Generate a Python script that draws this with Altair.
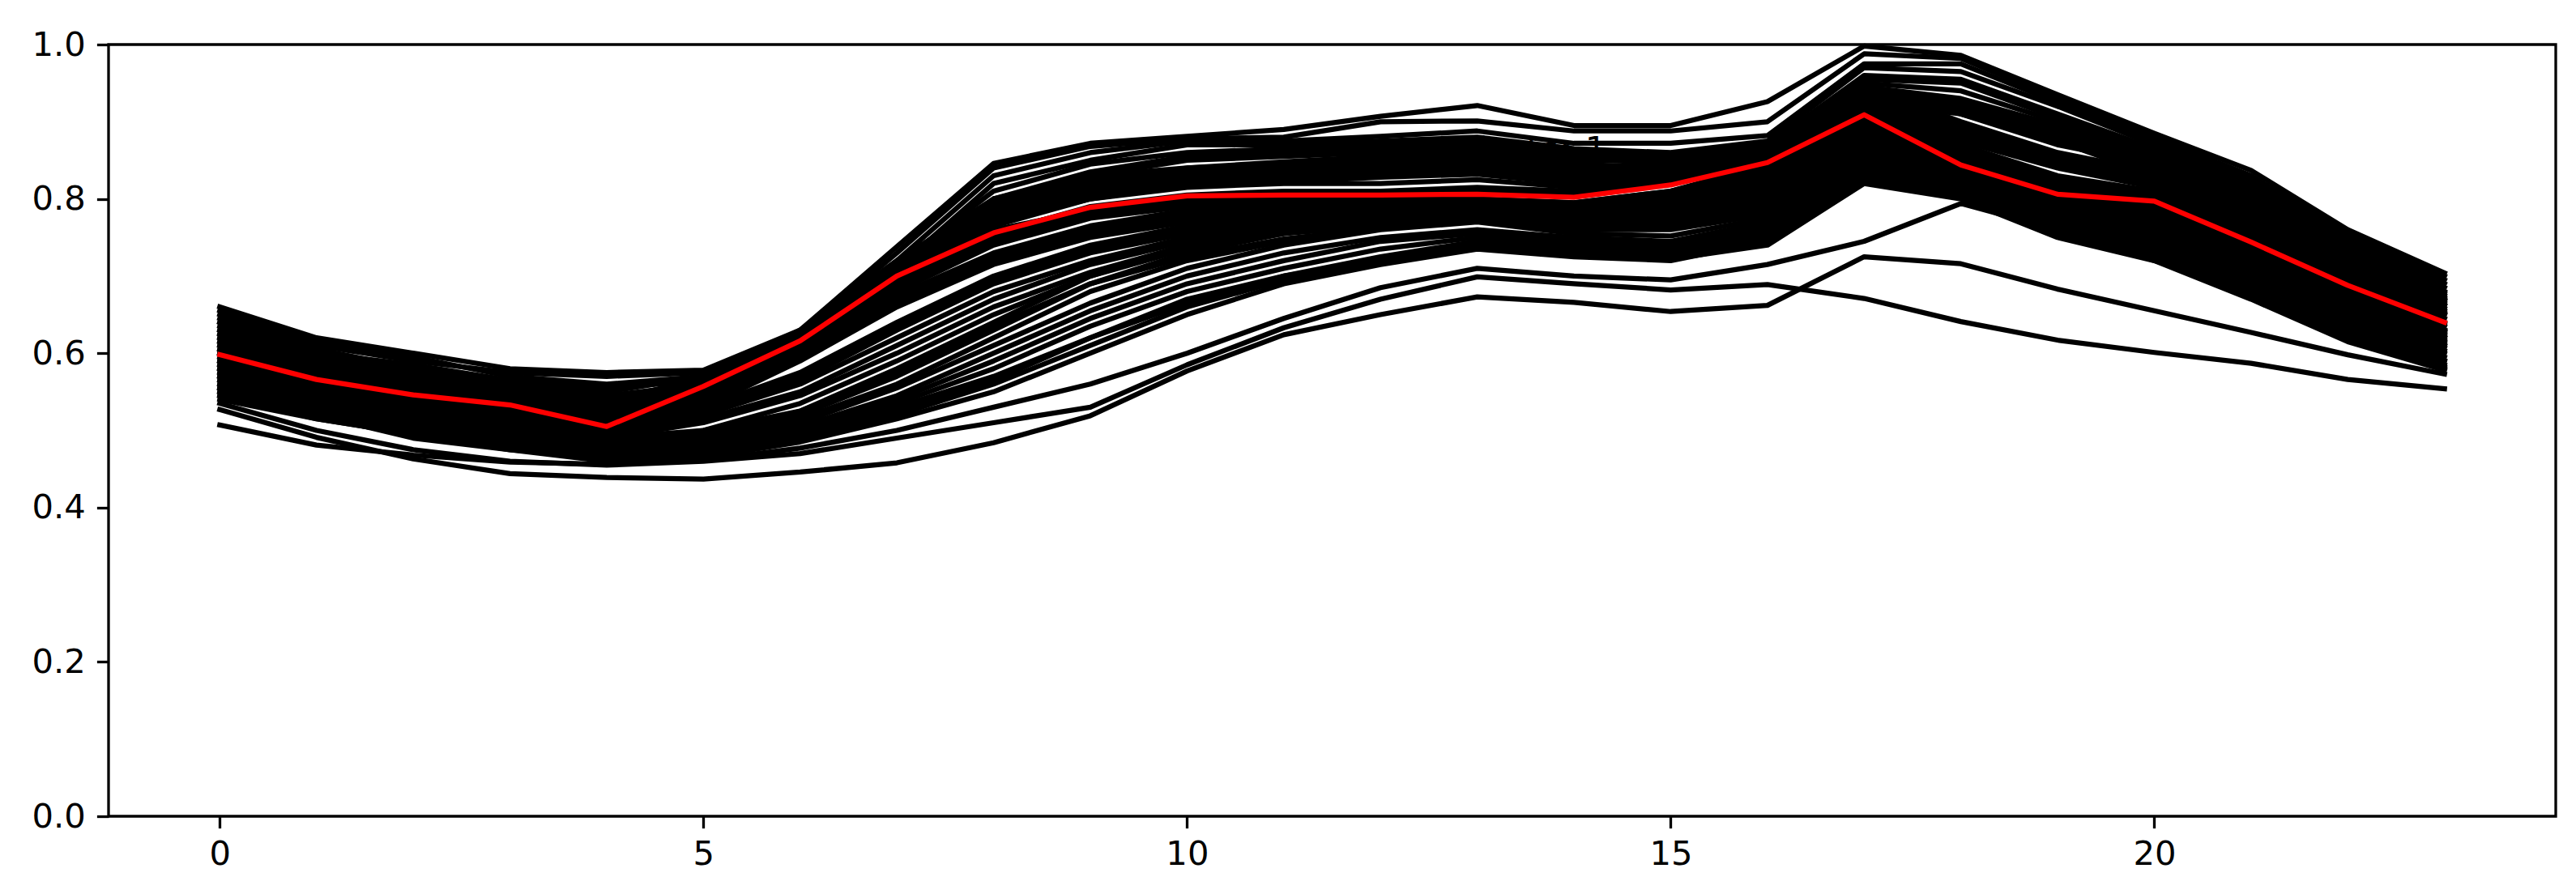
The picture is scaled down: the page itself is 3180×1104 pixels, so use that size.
import altair as alt
import pandas as pd

HOURS = list(range(24))

# Upper group of profiles
U1 = [0.660, 0.620, 0.600, 0.580, 0.575, 0.578, 0.630, 0.738, 0.846, 0.872, 0.881, 0.890, 0.907, 0.921, 0.895, 0.895, 0.926, 0.998, 0.986, 0.935, 0.885, 0.837, 0.760, 0.704]
U2 = [0.650, 0.610, 0.590, 0.575, 0.570, 0.575, 0.625, 0.730, 0.840, 0.868, 0.878, 0.880, 0.900, 0.901, 0.888, 0.888, 0.900, 0.988, 0.982, 0.930, 0.880, 0.830, 0.755, 0.700]
U3 = [0.655, 0.615, 0.595, 0.570, 0.560, 0.570, 0.620, 0.720, 0.830, 0.860, 0.875, 0.875, 0.881, 0.888, 0.872, 0.872, 0.882, 0.975, 0.975, 0.925, 0.875, 0.825, 0.750, 0.695]
U4 = [0.640, 0.600, 0.585, 0.565, 0.555, 0.565, 0.615, 0.710, 0.820, 0.850, 0.870, 0.870, 0.875, 0.880, 0.865, 0.860, 0.875, 0.970, 0.965, 0.920, 0.870, 0.820, 0.745, 0.690]
U5 = [0.630, 0.595, 0.575, 0.560, 0.550, 0.570, 0.620, 0.715, 0.810, 0.845, 0.860, 0.865, 0.870, 0.875, 0.860, 0.855, 0.870, 0.960, 0.955, 0.910, 0.865, 0.815, 0.740, 0.685]
U6 = [0.645, 0.605, 0.580, 0.560, 0.545, 0.560, 0.610, 0.700, 0.800, 0.835, 0.855, 0.860, 0.865, 0.870, 0.855, 0.850, 0.865, 0.955, 0.950, 0.905, 0.860, 0.810, 0.735, 0.680]
U7 = [0.620, 0.590, 0.570, 0.555, 0.540, 0.565, 0.615, 0.705, 0.795, 0.830, 0.850, 0.855, 0.860, 0.865, 0.850, 0.848, 0.860, 0.950, 0.940, 0.900, 0.855, 0.805, 0.730, 0.678]
U8 = [0.635, 0.600, 0.575, 0.550, 0.530, 0.560, 0.620, 0.700, 0.790, 0.825, 0.840, 0.848, 0.855, 0.860, 0.845, 0.840, 0.855, 0.945, 0.930, 0.895, 0.850, 0.800, 0.725, 0.675]
U9 = [0.610, 0.585, 0.565, 0.545, 0.525, 0.555, 0.610, 0.695, 0.785, 0.820, 0.838, 0.845, 0.850, 0.855, 0.840, 0.838, 0.850, 0.940, 0.925, 0.890, 0.845, 0.795, 0.720, 0.670]
U10 = [0.625, 0.590, 0.570, 0.550, 0.535, 0.570, 0.625, 0.710, 0.800, 0.815, 0.830, 0.840, 0.845, 0.852, 0.838, 0.835, 0.848, 0.935, 0.920, 0.885, 0.840, 0.790, 0.718, 0.668]
U11 = [0.615, 0.580, 0.560, 0.545, 0.520, 0.550, 0.600, 0.690, 0.775, 0.810, 0.825, 0.835, 0.840, 0.848, 0.835, 0.830, 0.845, 0.930, 0.915, 0.880, 0.835, 0.788, 0.715, 0.665]
U12 = [0.600, 0.575, 0.555, 0.540, 0.515, 0.555, 0.605, 0.685, 0.770, 0.805, 0.822, 0.830, 0.838, 0.845, 0.830, 0.828, 0.842, 0.925, 0.910, 0.875, 0.830, 0.785, 0.712, 0.662]

# Upper-middle group
A1 = [0.630, 0.595, 0.570, 0.555, 0.520, 0.565, 0.625, 0.710, 0.790, 0.820, 0.835, 0.840, 0.845, 0.850, 0.835, 0.840, 0.865, 0.945, 0.900, 0.860, 0.835, 0.780, 0.715, 0.668]
A2 = [0.615, 0.585, 0.565, 0.550, 0.515, 0.560, 0.620, 0.705, 0.785, 0.815, 0.830, 0.835, 0.840, 0.845, 0.830, 0.840, 0.870, 0.940, 0.895, 0.855, 0.830, 0.775, 0.710, 0.662]
A3 = [0.605, 0.575, 0.555, 0.540, 0.510, 0.555, 0.615, 0.700, 0.775, 0.810, 0.825, 0.830, 0.835, 0.840, 0.828, 0.835, 0.865, 0.935, 0.890, 0.850, 0.825, 0.770, 0.705, 0.658]
A4 = [0.625, 0.590, 0.565, 0.550, 0.525, 0.565, 0.625, 0.715, 0.785, 0.810, 0.820, 0.825, 0.830, 0.835, 0.825, 0.838, 0.860, 0.930, 0.885, 0.848, 0.822, 0.768, 0.702, 0.655]
A5 = [0.590, 0.565, 0.550, 0.535, 0.505, 0.550, 0.610, 0.695, 0.770, 0.800, 0.818, 0.822, 0.828, 0.832, 0.820, 0.832, 0.858, 0.928, 0.880, 0.845, 0.820, 0.765, 0.700, 0.652]
A6 = [0.640, 0.600, 0.580, 0.560, 0.530, 0.570, 0.630, 0.720, 0.800, 0.830, 0.840, 0.845, 0.850, 0.855, 0.840, 0.845, 0.870, 0.950, 0.910, 0.870, 0.845, 0.790, 0.720, 0.672]
A7 = [0.600, 0.570, 0.550, 0.540, 0.510, 0.560, 0.620, 0.700, 0.780, 0.805, 0.820, 0.828, 0.832, 0.838, 0.825, 0.830, 0.855, 0.925, 0.875, 0.840, 0.815, 0.765, 0.700, 0.650]

# Middle group
M1 = [0.620, 0.585, 0.560, 0.545, 0.510, 0.560, 0.620, 0.700, 0.765, 0.800, 0.815, 0.820, 0.820, 0.825, 0.815, 0.830, 0.860, 0.920, 0.870, 0.830, 0.810, 0.760, 0.700, 0.650]
M2 = [0.600, 0.570, 0.550, 0.535, 0.505, 0.555, 0.615, 0.695, 0.755, 0.790, 0.805, 0.810, 0.810, 0.815, 0.810, 0.825, 0.855, 0.915, 0.865, 0.825, 0.805, 0.755, 0.695, 0.645]
M3 = [0.590, 0.565, 0.545, 0.530, 0.500, 0.550, 0.610, 0.690, 0.750, 0.785, 0.800, 0.800, 0.805, 0.810, 0.805, 0.820, 0.850, 0.910, 0.860, 0.820, 0.800, 0.750, 0.690, 0.640]
M4 = [0.610, 0.575, 0.550, 0.535, 0.505, 0.560, 0.620, 0.700, 0.760, 0.785, 0.795, 0.795, 0.800, 0.800, 0.795, 0.810, 0.845, 0.905, 0.855, 0.815, 0.795, 0.745, 0.688, 0.638]
M5 = [0.580, 0.555, 0.540, 0.525, 0.495, 0.545, 0.605, 0.680, 0.740, 0.775, 0.790, 0.790, 0.795, 0.800, 0.795, 0.810, 0.840, 0.900, 0.850, 0.810, 0.790, 0.740, 0.685, 0.635]
M6 = [0.595, 0.560, 0.540, 0.525, 0.490, 0.550, 0.610, 0.685, 0.745, 0.780, 0.795, 0.800, 0.800, 0.800, 0.790, 0.805, 0.835, 0.900, 0.850, 0.810, 0.785, 0.735, 0.680, 0.630]
M7 = [0.605, 0.570, 0.545, 0.530, 0.500, 0.545, 0.600, 0.675, 0.730, 0.765, 0.785, 0.790, 0.790, 0.795, 0.785, 0.800, 0.830, 0.895, 0.845, 0.805, 0.780, 0.730, 0.675, 0.628]
M8 = [0.575, 0.550, 0.530, 0.520, 0.490, 0.540, 0.600, 0.670, 0.725, 0.760, 0.780, 0.785, 0.785, 0.790, 0.780, 0.795, 0.825, 0.890, 0.840, 0.800, 0.775, 0.725, 0.670, 0.625]
M9 = [0.585, 0.555, 0.535, 0.520, 0.485, 0.535, 0.595, 0.665, 0.720, 0.755, 0.775, 0.780, 0.780, 0.785, 0.775, 0.790, 0.820, 0.885, 0.835, 0.795, 0.770, 0.720, 0.668, 0.622]
M10 = [0.570, 0.545, 0.525, 0.515, 0.480, 0.530, 0.590, 0.660, 0.715, 0.750, 0.770, 0.775, 0.780, 0.780, 0.770, 0.785, 0.815, 0.880, 0.830, 0.790, 0.765, 0.715, 0.665, 0.620]

# Lower-middle group
B1 = [0.590, 0.560, 0.540, 0.525, 0.500, 0.530, 0.575, 0.640, 0.700, 0.740, 0.765, 0.775, 0.780, 0.790, 0.780, 0.790, 0.815, 0.885, 0.845, 0.800, 0.780, 0.730, 0.675, 0.630]
B2 = [0.575, 0.550, 0.530, 0.515, 0.495, 0.525, 0.565, 0.630, 0.690, 0.730, 0.755, 0.770, 0.775, 0.785, 0.775, 0.785, 0.810, 0.880, 0.840, 0.795, 0.775, 0.725, 0.670, 0.627]
B3 = [0.580, 0.550, 0.530, 0.515, 0.490, 0.520, 0.560, 0.620, 0.680, 0.720, 0.750, 0.765, 0.775, 0.782, 0.772, 0.780, 0.805, 0.878, 0.838, 0.792, 0.770, 0.722, 0.668, 0.624]
B4 = [0.565, 0.540, 0.520, 0.505, 0.485, 0.515, 0.550, 0.610, 0.670, 0.715, 0.745, 0.760, 0.770, 0.780, 0.770, 0.775, 0.800, 0.875, 0.835, 0.790, 0.765, 0.718, 0.662, 0.620]
B5 = [0.570, 0.545, 0.525, 0.510, 0.490, 0.510, 0.545, 0.600, 0.660, 0.705, 0.740, 0.758, 0.768, 0.778, 0.765, 0.770, 0.795, 0.872, 0.832, 0.785, 0.760, 0.712, 0.658, 0.617]
B6 = [0.560, 0.535, 0.515, 0.500, 0.480, 0.500, 0.535, 0.590, 0.650, 0.700, 0.735, 0.755, 0.765, 0.775, 0.762, 0.765, 0.790, 0.868, 0.828, 0.782, 0.757, 0.708, 0.655, 0.613]
B7 = [0.585, 0.555, 0.535, 0.520, 0.495, 0.525, 0.570, 0.635, 0.695, 0.735, 0.760, 0.770, 0.778, 0.788, 0.778, 0.788, 0.812, 0.882, 0.842, 0.798, 0.778, 0.728, 0.672, 0.628]
B8 = [0.555, 0.530, 0.510, 0.495, 0.475, 0.490, 0.525, 0.575, 0.635, 0.690, 0.725, 0.748, 0.762, 0.772, 0.760, 0.762, 0.785, 0.865, 0.825, 0.780, 0.755, 0.705, 0.650, 0.610]

# Lower (late-rising) group
L1 = [0.580, 0.550, 0.530, 0.510, 0.490, 0.500, 0.525, 0.580, 0.640, 0.700, 0.740, 0.760, 0.775, 0.785, 0.770, 0.770, 0.790, 0.870, 0.850, 0.800, 0.770, 0.720, 0.660, 0.615]
L2 = [0.565, 0.540, 0.520, 0.505, 0.485, 0.495, 0.520, 0.570, 0.630, 0.690, 0.730, 0.755, 0.770, 0.780, 0.765, 0.765, 0.785, 0.865, 0.845, 0.795, 0.765, 0.715, 0.655, 0.610]
L3 = [0.555, 0.530, 0.510, 0.500, 0.480, 0.490, 0.515, 0.560, 0.620, 0.680, 0.720, 0.745, 0.765, 0.775, 0.760, 0.760, 0.780, 0.860, 0.840, 0.790, 0.760, 0.710, 0.650, 0.607]
L4 = [0.570, 0.540, 0.515, 0.495, 0.475, 0.485, 0.510, 0.555, 0.610, 0.665, 0.710, 0.740, 0.760, 0.770, 0.755, 0.752, 0.775, 0.855, 0.835, 0.785, 0.755, 0.705, 0.645, 0.603]
L5 = [0.550, 0.525, 0.505, 0.490, 0.470, 0.480, 0.505, 0.545, 0.600, 0.655, 0.700, 0.730, 0.750, 0.760, 0.750, 0.745, 0.770, 0.850, 0.830, 0.780, 0.750, 0.700, 0.640, 0.600]
L6 = [0.560, 0.530, 0.505, 0.485, 0.470, 0.480, 0.500, 0.540, 0.590, 0.645, 0.690, 0.720, 0.745, 0.755, 0.745, 0.740, 0.765, 0.845, 0.825, 0.775, 0.745, 0.695, 0.635, 0.595]
L7 = [0.545, 0.520, 0.500, 0.485, 0.465, 0.475, 0.500, 0.535, 0.580, 0.635, 0.680, 0.710, 0.735, 0.750, 0.740, 0.735, 0.760, 0.840, 0.820, 0.770, 0.740, 0.690, 0.630, 0.590]
L8 = [0.555, 0.525, 0.500, 0.480, 0.465, 0.470, 0.495, 0.530, 0.570, 0.620, 0.670, 0.700, 0.725, 0.745, 0.735, 0.730, 0.755, 0.835, 0.815, 0.765, 0.735, 0.685, 0.625, 0.585]
L9 = [0.540, 0.515, 0.495, 0.480, 0.460, 0.470, 0.490, 0.520, 0.560, 0.610, 0.660, 0.695, 0.720, 0.740, 0.730, 0.725, 0.750, 0.830, 0.810, 0.760, 0.730, 0.680, 0.620, 0.582]
L10 = [0.550, 0.520, 0.490, 0.475, 0.460, 0.465, 0.485, 0.515, 0.550, 0.600, 0.650, 0.690, 0.715, 0.735, 0.725, 0.720, 0.745, 0.825, 0.805, 0.755, 0.725, 0.675, 0.618, 0.580]
L11 = [0.545, 0.515, 0.495, 0.475, 0.465, 0.470, 0.490, 0.525, 0.565, 0.620, 0.665, 0.700, 0.720, 0.740, 0.728, 0.722, 0.740, 0.820, 0.800, 0.750, 0.720, 0.670, 0.615, 0.578]

# Outlying profiles
O1 = [0.527, 0.491, 0.463, 0.444, 0.439, 0.437, 0.446, 0.458, 0.484, 0.519, 0.577, 0.624, 0.650, 0.673, 0.666, 0.654, 0.662, 0.725, 0.716, 0.683, 0.655, 0.627, 0.598, 0.573]
O2 = [0.535, 0.500, 0.475, 0.460, 0.455, 0.460, 0.470, 0.490, 0.510, 0.530, 0.585, 0.633, 0.670, 0.699, 0.690, 0.682, 0.689, 0.671, 0.641, 0.617, 0.601, 0.587, 0.566, 0.554]
O3 = [0.507, 0.481, 0.468, 0.459, 0.456, 0.461, 0.477, 0.500, 0.530, 0.560, 0.600, 0.645, 0.685, 0.710, 0.700, 0.695, 0.715, 0.745, 0.794, 0.760, 0.720, 0.680, 0.625, 0.590]

# Cluster centre (red)
CENTER = [0.598, 0.566, 0.546, 0.533, 0.505, 0.557, 0.616, 0.700, 0.756, 0.789, 0.804, 0.805, 0.805, 0.806, 0.802, 0.818, 0.847, 0.909, 0.844, 0.806, 0.797, 0.744, 0.688, 0.640]

LABEL = "Cluster 1"
X_TICKS = [0, 5, 10, 15, 20]
Y_TICKS = [0.0, 0.2, 0.4, 0.6, 0.8, 1.0]

series = {
    "U1": U1, "U2": U2, "U3": U3, "U4": U4, "U5": U5, "U6": U6,
    "U7": U7, "U8": U8, "U9": U9, "U10": U10, "U11": U11, "U12": U12,
    "A1": A1, "A2": A2, "A3": A3, "A4": A4, "A5": A5, "A6": A6, "A7": A7,
    "M1": M1, "M2": M2, "M3": M3, "M4": M4, "M5": M5, "M6": M6,
    "M7": M7, "M8": M8, "M9": M9, "M10": M10,
    "B1": B1, "B2": B2, "B3": B3, "B4": B4, "B5": B5, "B6": B6, "B7": B7, "B8": B8,
    "L1": L1, "L2": L2, "L3": L3, "L4": L4, "L5": L5, "L6": L6,
    "L7": L7, "L8": L8, "L9": L9, "L10": L10, "L11": L11,
    "O1": O1, "O2": O2, "O3": O3,
}

rows = []
for name, vals in series.items():
    for h, v in zip(HOURS, vals):
        rows.append({"series": name, "hour": h, "value": v})
df = pd.DataFrame(rows)
center_df = pd.DataFrame({"hour": HOURS, "value": CENTER})
text_df = pd.DataFrame({"hour": [12.765], "value": [0.85], "label": [LABEL]})

FONT = "DejaVu Sans"
FS = 41.7

x_scale = alt.Scale(domain=[-1.15, 24.15], nice=False, zero=False)
y_scale = alt.Scale(domain=[0, 1], nice=False, zero=True)

x_axis = alt.Axis(values=X_TICKS, format="d", title=None, grid=False, domain=False,
                  tickSize=14.6, tickWidth=3.3, tickColor="black",
                  labelFont=FONT, labelFontSize=FS, labelColor="black",
                  labelPadding=12, labelFlush=False)
y_axis = alt.Axis(values=Y_TICKS, format=".1f", title=None, grid=False, domain=False,
                  tickSize=14.6, tickWidth=3.3, tickColor="black",
                  labelFont=FONT, labelFontSize=FS, labelColor="black",
                  labelPadding=14, labelFlush=False)

text = alt.Chart(text_df).mark_text(
    align="left", baseline="alphabetic", font=FONT, fontSize=FS, color="black"
).encode(
    x=alt.X("hour:Q", scale=x_scale, axis=x_axis),
    y=alt.Y("value:Q", scale=y_scale, axis=y_axis),
    text="label:N",
)

lines = alt.Chart(df).mark_line(
    color="black", strokeWidth=6.25, strokeJoin="round", strokeCap="square"
).encode(
    x=alt.X("hour:Q", scale=x_scale, axis=x_axis),
    y=alt.Y("value:Q", scale=y_scale, axis=y_axis),
    detail="series:N",
    order="hour:Q",
)

center = alt.Chart(center_df).mark_line(
    color="#ff0000", strokeWidth=6.25, strokeJoin="round", strokeCap="square"
).encode(
    x=alt.X("hour:Q", scale=x_scale, axis=x_axis),
    y=alt.Y("value:Q", scale=y_scale, axis=y_axis),
)

chart = alt.layer(text, lines, center).properties(
    width=3021,
    height=953,
    autosize=alt.AutoSizeParams(type="none"),
    padding={"left": 126, "top": 47, "right": 10, "bottom": 80},
    background="white",
).configure_view(
    stroke="black", strokeWidth=3.3
)

chart.save("out.html", embed_options={"renderer": "svg", "actions": False})
